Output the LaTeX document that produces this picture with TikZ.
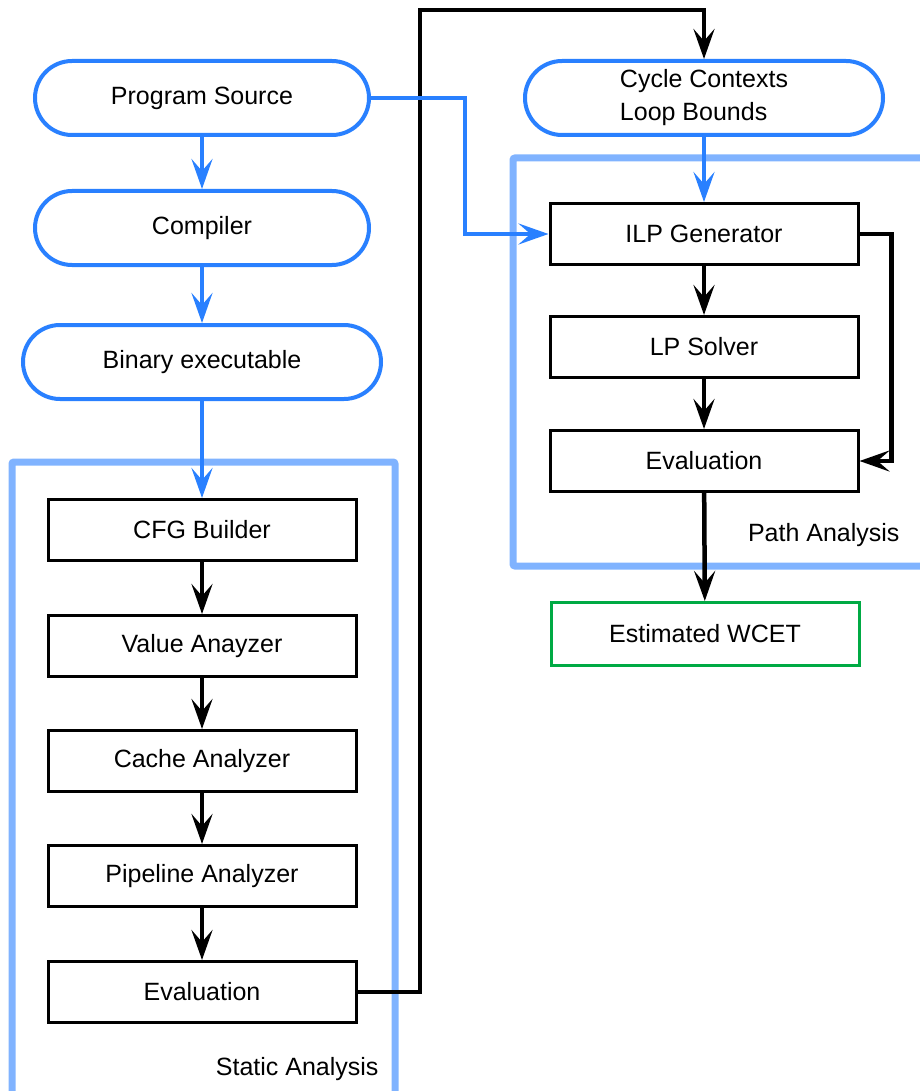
\documentclass[tikz,border=0pt]{standalone}
\usepackage{fontspec}
\setmainfont{Liberation Sans}
\usetikzlibrary{arrows.meta}
\definecolor{flowblue}{RGB}{41,128,255}
\definecolor{frameblue}{RGB}{128,179,255}
\definecolor{wcetgreen}{RGB}{0,170,68}

\begin{document}
\begin{tikzpicture}[x=1pt, y=-1pt,
  every node/.style={font=\fontsize{25}{33}\selectfont},
  term/.style={shape=rectangle, draw=flowblue, line width=4pt, rounded corners=37pt, minimum width=334pt, minimum height=74pt},
  proc/.style={shape=rectangle, draw, line width=3pt, minimum width=308pt, minimum height=61pt},
  frame/.style={draw=frameblue, line width=7pt, rounded corners=2pt},
  blk/.style={-{Stealth[length=30pt, width=21pt, inset=12pt]}, line width=4.5pt},
  blu/.style={-{Stealth[length=30pt, width=21pt, inset=12pt]}, draw=flowblue, line width=4pt}]
  \useasboundingbox (0,0) rectangle (919,1091);

  % analysis frames
  \draw [frame] (12,462) rectangle (395,1110);
  \draw [frame] (513,158) rectangle (940,566);
  \path (382,1069) node [anchor=east] (lblstatic) {Static Analysis};
  \path (903,535) node [anchor=east] (lblpath) {Path Analysis};

  % left column
  \path (202,98)  node [term] (src) {Program Source};
  \path (202,228) node [term] (comp) {Compiler};
  \path (202,362) node [term, minimum width=358pt] (bin) {Binary executable};
  \path (202,530) node [proc] (cfg) {CFG Builder};
  \path (202,646) node [proc] (val) {Value Anayzer};
  \path (202,761) node [proc] (cache) {Cache Analyzer};
  \path (202,876) node [proc] (pipe) {Pipeline Analyzer};
  \path (202,992) node [proc] (evalA) {Evaluation};

  % right column
  \path (704,98)  node [term, minimum width=358pt, align=left] (ctx) {Cycle Contexts\\Loop Bounds};
  \path (704,234) node [proc] (ilp) {ILP Generator};
  \path (704,347) node [proc] (lp) {LP Solver};
  \path (704,461) node [proc] (evalB) {Evaluation};
  \path (705,634) node [proc, draw=wcetgreen, minimum height=63pt] (wcet) {Estimated WCET};

  \coordinate (top) at (420,10);

  \draw [blk] (cfg) -- (val);
  \draw [blk] (val) -- (cache);
  \draw [blk] (cache) -- (pipe);
  \draw [blk] (pipe) -- (evalA);
  \draw [blk] (evalA.east) -| (top) -| (ctx.north);
  \draw [blk] (ilp) -- (lp);
  \draw [blk] (lp) -- (evalB);
  \draw [blk] (ilp.east) -- ++(32,0) |- (evalB.east);
  \draw [blk] (evalB) -- (wcet);

  \draw [blu] (src) -- (comp);
  \draw [blu] (comp) -- (bin);
  \draw [blu] (bin) -- (cfg);
  \draw [blu] (ctx) -- (ilp);
  \draw [blu] (src.east) -- (465,98) |- (ilp.west);
\end{tikzpicture}
\end{document}
